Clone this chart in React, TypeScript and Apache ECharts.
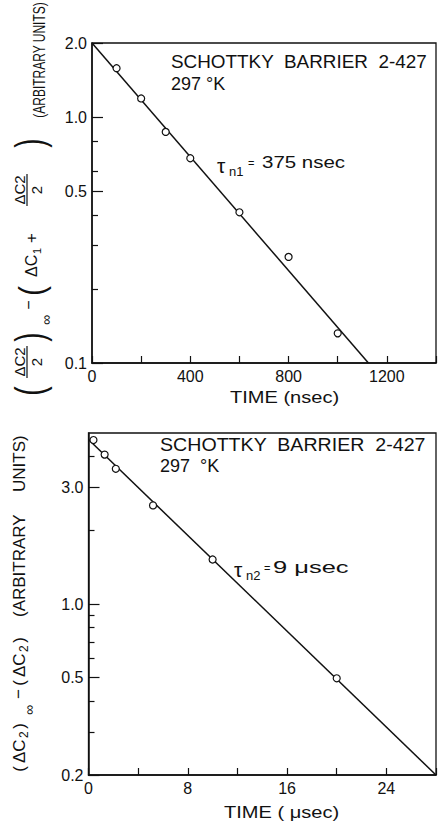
import React, { useEffect, useRef } from 'react';
import * as echarts from 'echarts';

// ---- Upper panel (nsec) ----
const topTimes = [100, 200, 300, 400, 600, 800, 1000];
const topValues = [1.58, 1.19, 0.87, 0.68, 0.41, 0.27, 0.132];
const topFitTimes = [0, 1125];
const topFitValues = [2.0, 0.1];
const topXTickStep = 200;
const topXLabelValues = [0, 400, 800, 1200];
const topYLabelValues = [0.1, 0.5, 1.0, 2.0];
const topYMinorValues = [0.2, 0.3, 0.4, 0.6, 0.8];

// ---- Lower panel (usec) ----
const botTimes = [0.4, 1.3, 2.2, 5.2, 10, 20];
const botValues = [4.68, 4.08, 3.57, 2.53, 1.52, 0.497];
const botFitTimes = [0, 28];
const botFitValues = [4.7, 0.2];
const botXTickStep = 4;
const botXLabelValues = [0, 8, 16, 24];
const botYLabelValues = [0.2, 0.5, 1.0, 3.0];
const botYMinorValues = [0.3, 0.4, 0.6, 0.7, 0.8, 0.9, 2.0, 4.0];

const FONT = '"Liberation Sans", Arial, Helvetica, sans-serif';
const INK = '#111';

function xAxisCfg(gridIndex: number, min: number, max: number, interval: number, labels: number[], show = true) {
  return {
    type: 'value', gridIndex, min, max, interval, show,
    axisLine: { show: true, onZero: false, lineStyle: { color: INK, width: 1.5 } },
    axisTick: { show: true, inside: true, length: 7, lineStyle: { color: INK, width: 1.2 } },
    axisLabel: {
      show: true, margin: 5, color: INK, fontSize: 16, fontFamily: FONT,
      formatter: (v: number) => (labels.some((l) => Math.abs(l - v) < 1e-9) ? String(v) : ''),
    },
    splitLine: { show: false },
  };
}

function yAxisCfg(gridIndex: number, min: number, max: number, tickVals: number[], withLabels: boolean, tickLen: number) {
  const vals = tickVals.map((v) => Math.log10(v));
  return {
    type: 'value', gridIndex, min: Math.log10(min), max: Math.log10(max),
    axisLine: { show: withLabels, onZero: false, lineStyle: { color: INK, width: 1.5 } },
    axisTick: { show: true, inside: true, length: tickLen, customValues: vals, lineStyle: { color: INK, width: 1.2 } },
    axisLabel: {
      show: withLabels, customValues: vals, margin: 5, color: INK, fontSize: 16, fontFamily: FONT,
      formatter: (v: number) => Math.pow(10, v).toFixed(1),
    },
    splitLine: { show: false },
  };
}

type Piece = { t: string; u: number; v: number; size: number; sx?: number; align?: string };

function rotatedLabel(x0: number, y0: number, pieces: Piece[], bars: number[][]) {
  return {
    type: 'group', x: x0, y: y0, rotation: Math.PI / 2,
    children: [
      ...pieces.map((p) => ({
        type: 'text', x: p.u, y: p.v, scaleX: p.sx ?? 1,
        style: {
          text: p.t, fontSize: p.size, fontFamily: FONT, fill: INK,
          align: p.align ?? 'center', textAlign: p.align ?? 'center',
          verticalAlign: 'middle', textVerticalAlign: 'middle',
        },
      })),
      ...bars.map((b) => ({
        type: 'line', shape: { x1: b[0], y1: b[2], x2: b[1], y2: b[2] },
        style: { stroke: INK, lineWidth: 1.2 },
      })),
    ],
  };
}

function txt(x: number, y: number, text: string, size: number, sx = 1) {
  return {
    type: 'text', x, y, scaleX: sx,
    style: {
      text, fontSize: size, fontFamily: FONT, fill: INK,
      align: 'left', textAlign: 'left', verticalAlign: 'middle', textVerticalAlign: 'middle',
    },
  };
}

const topTitle = rotatedLabel(0, 400, [
  { t: '(', u: 9, v: 30, size: 40, sx: 0.7 },
  { t: 'ΔC2', u: 38, v: 19, size: 15 },
  { t: '2', u: 38, v: 36, size: 15 },
  { t: ')', u: 63, v: 30, size: 40, sx: 0.7 },
  { t: '∞', u: 80, v: 46, size: 14 },
  { t: '−', u: 95, v: 28, size: 16 },
  { t: '(', u: 109, v: 31, size: 36, sx: 0.8 },
  { t: 'ΔC', u: 123, v: 31, size: 16, align: 'left' },
  { t: '1', u: 146, v: 37, size: 11, align: 'left' },
  { t: '+', u: 162, v: 31, size: 17 },
  { t: 'ΔC2', u: 210, v: 19, size: 15 },
  { t: '2', u: 210, v: 36, size: 15 },
  { t: ')', u: 257, v: 30, size: 40, sx: 0.7 },
  { t: '(ARBITRARY UNITS)', u: 340, v: 39, size: 16, sx: 0.75 },
], [
  [22, 54, 27],
  [194, 226, 27],
]);

const botTitle = rotatedLabel(0, 780, [
  { t: '(', u: 11, v: 19, size: 17 },
  { t: 'ΔC', u: 17, v: 19, size: 17, align: 'left' },
  { t: '2', u: 42, v: 24, size: 12, align: 'left' },
  { t: ')', u: 54, v: 19, size: 17 },
  { t: '∞', u: 70, v: 29, size: 14 },
  { t: '−', u: 86, v: 18, size: 17 },
  { t: '(', u: 97, v: 19, size: 17 },
  { t: 'ΔC', u: 103, v: 19, size: 17, align: 'left' },
  { t: '2', u: 128, v: 24, size: 12, align: 'left' },
  { t: ')', u: 140, v: 19, size: 17 },
  { t: '(ARBITRARY', u: 163, v: 19, size: 17, align: 'left' },
  { t: 'UNITS)', u: 288, v: 19, size: 17, align: 'left' },
], []);

const option = {
  animation: false,
  backgroundColor: '#fff',
  grid: [
    { left: 92, top: 43, width: 347.5, height: 320, show: true, borderColor: INK, borderWidth: 1.3, backgroundColor: 'transparent' },
    { left: 88.5, top: 433, width: 349.2, height: 342, show: true, borderColor: INK, borderWidth: 1.3, backgroundColor: 'transparent' },
    { left: 92, top: 43, width: 347.5, height: 320, show: false },
    { left: 88.5, top: 433, width: 349.2, height: 342, show: false },
  ],
  xAxis: [
    xAxisCfg(0, 0, 1400, topXTickStep, topXLabelValues),
    xAxisCfg(1, 0, 28, botXTickStep, botXLabelValues),
    xAxisCfg(2, 0, 1400, topXTickStep, [], false),
    xAxisCfg(3, 0, 28, botXTickStep, [], false),
  ],
  yAxis: [
    yAxisCfg(0, 0.1, 2.0, topYLabelValues, true, 11),
    yAxisCfg(1, 0.2, 5.0, botYLabelValues, true, 11),
    yAxisCfg(2, 0.1, 2.0, topYMinorValues, false, 6),
    yAxisCfg(3, 0.2, 5.0, botYMinorValues, false, 6),
  ],
  series: [
    {
      type: 'line', xAxisIndex: 0, yAxisIndex: 0, symbol: 'none', z: 2,
      data: topFitTimes.map((t, i) => [t, Math.log10(topFitValues[i])]),
      lineStyle: { color: INK, width: 1.5 },
    },
    {
      type: 'scatter', xAxisIndex: 0, yAxisIndex: 0, symbol: 'circle', symbolSize: 7, z: 3,
      data: topTimes.map((t, i) => [t, Math.log10(topValues[i])]),
      itemStyle: { color: '#fff', borderColor: INK, borderWidth: 1.2, opacity: 1 },
    },
    {
      type: 'line', xAxisIndex: 1, yAxisIndex: 1, symbol: 'none', z: 2,
      data: botFitTimes.map((t, i) => [t, Math.log10(botFitValues[i])]),
      lineStyle: { color: INK, width: 1.5 },
    },
    {
      type: 'scatter', xAxisIndex: 1, yAxisIndex: 1, symbol: 'circle', symbolSize: 7, z: 3,
      data: botTimes.map((t, i) => [t, Math.log10(botValues[i])]),
      itemStyle: { color: '#fff', borderColor: INK, borderWidth: 1.2, opacity: 1 },
    },
  ],
  graphic: [
    txt(171, 62, 'SCHOTTKY  BARRIER  2-427', 18, 1.05),
    txt(171, 83.5, '297 °K', 18),
    txt(217, 165.5, 'τ', 21),
    txt(229, 171, 'n1', 13),
    txt(248, 163, '=', 11),
    txt(262, 162.5, '375 nsec', 16, 1.28),
    txt(230, 397, 'TIME (nsec)', 17, 1.18),
    txt(160, 445, 'SCHOTTKY  BARRIER  2-427', 18, 1.09),
    txt(160, 466, '297  °K', 18),
    txt(234, 569.5, 'τ', 21),
    txt(246, 575, 'n2', 13),
    txt(264, 568, '=', 11),
    txt(273, 567.5, '9 μsec', 17, 1.5),
    txt(224, 812.5, 'TIME ( μsec)', 17, 1.18),
    topTitle,
    botTitle,
  ],
};

export default function App() {
  const ref = useRef<HTMLDivElement>(null);
  useEffect(() => {
    const el = ref.current;
    if (!el) return;
    const chart = echarts.init(el, null, { renderer: 'svg' });
    chart.setOption(option as any);
    return () => chart.dispose();
  }, []);
  return (
    <div
      ref={ref}
      style={{ position: 'absolute', left: 0, top: 0, width: 439, height: 827, background: '#fff' }}
    />
  );
}
